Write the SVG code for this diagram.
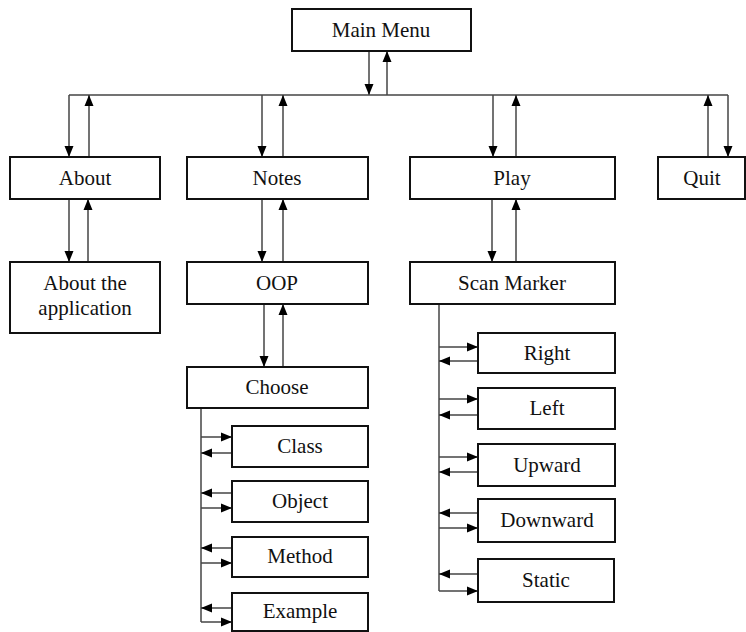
<svg xmlns="http://www.w3.org/2000/svg" width="746" height="632" viewBox="0 0 746 632" font-family="'Liberation Serif', 'DejaVu Serif', serif">
<defs>
<marker id="ah" markerUnits="userSpaceOnUse" markerWidth="11" markerHeight="10" refX="11" refY="5" orient="auto">
<path d="M0,0.5 L11,5 L0,9.5 z" fill="#000"/>
</marker>
<style>
.box{fill:#fff;stroke:#111;stroke-width:2}
.lbl{font-family:'Liberation Serif','DejaVu Serif',serif;font-size:21px;fill:#111;text-anchor:middle}
.c line{stroke:#444;stroke-width:1.5;fill:none}
.a{marker-end:url(#ah)}
</style>
</defs>
<rect width="746" height="632" fill="#fff"/>
<g class="c" id="connectors">
<line class="a" x1="369" y1="51" x2="369" y2="95"/>
<line class="a" x1="387" y1="95" x2="387" y2="51"/>
<line x1="69" y1="95" x2="728" y2="95"/>
<line class="a" x1="69" y1="95" x2="69" y2="157"/>
<line class="a" x1="89" y1="157" x2="89" y2="95"/>
<line class="a" x1="262" y1="95" x2="262" y2="157"/>
<line class="a" x1="283" y1="157" x2="283" y2="95"/>
<line class="a" x1="493" y1="95" x2="493" y2="157"/>
<line class="a" x1="516" y1="157" x2="516" y2="95"/>
<line class="a" x1="708" y1="157" x2="708" y2="95"/>
<line class="a" x1="728" y1="95" x2="728" y2="157"/>
<line class="a" x1="69" y1="199" x2="69" y2="262"/>
<line class="a" x1="88" y1="262" x2="88" y2="199"/>
<line class="a" x1="262" y1="199" x2="262" y2="262"/>
<line class="a" x1="283" y1="262" x2="283" y2="199"/>
<line class="a" x1="264" y1="304" x2="264" y2="367"/>
<line class="a" x1="283" y1="367" x2="283" y2="304"/>
<line class="a" x1="492" y1="199" x2="492" y2="262"/>
<line class="a" x1="516" y1="262" x2="516" y2="199"/>
<line x1="201" y1="408" x2="201" y2="622"/>
<line class="a" x1="201" y1="437" x2="232" y2="437"/>
<line class="a" x1="232" y1="453" x2="201" y2="453"/>
<line class="a" x1="232" y1="493" x2="201" y2="493"/>
<line class="a" x1="201" y1="508" x2="232" y2="508"/>
<line class="a" x1="232" y1="548" x2="201" y2="548"/>
<line class="a" x1="201" y1="563" x2="232" y2="563"/>
<line class="a" x1="232" y1="608" x2="201" y2="608"/>
<line class="a" x1="201" y1="622" x2="232" y2="622"/>
<line x1="439" y1="304" x2="439" y2="591"/>
<line class="a" x1="439" y1="347" x2="478" y2="347"/>
<line class="a" x1="478" y1="361" x2="439" y2="361"/>
<line class="a" x1="439" y1="399" x2="478" y2="399"/>
<line class="a" x1="478" y1="415" x2="439" y2="415"/>
<line class="a" x1="439" y1="457" x2="478" y2="457"/>
<line class="a" x1="478" y1="472" x2="439" y2="472"/>
<line class="a" x1="478" y1="513" x2="439" y2="513"/>
<line class="a" x1="439" y1="528" x2="478" y2="528"/>
<line class="a" x1="478" y1="574" x2="439" y2="574"/>
<line class="a" x1="439" y1="591" x2="478" y2="591"/>
</g>
<g id="main-menu"><rect class="box" x="292" y="9" width="179" height="42"/><text class="lbl" x="381" y="37">Main Menu</text></g>
<g id="about"><rect class="box" x="10" y="157" width="150" height="42"/><text class="lbl" x="85" y="185">About</text></g>
<g id="notes"><rect class="box" x="187" y="157" width="181" height="42"/><text class="lbl" x="277" y="185">Notes</text></g>
<g id="play"><rect class="box" x="410" y="157" width="205" height="42"/><text class="lbl" x="512" y="185">Play</text></g>
<g id="quit"><rect class="box" x="658" y="157" width="87" height="42"/><text class="lbl" x="702" y="185">Quit</text></g>
<g id="about-app"><rect class="box" x="10" y="262" width="150" height="71"/><text class="lbl" x="85" y="290">About the</text><text class="lbl" x="85" y="315">application</text></g>
<g id="oop"><rect class="box" x="187" y="262" width="181" height="42"/><text class="lbl" x="277" y="290">OOP</text></g>
<g id="scan-marker"><rect class="box" x="410" y="262" width="205" height="42"/><text class="lbl" x="512" y="290">Scan Marker</text></g>
<g id="choose"><rect class="box" x="187" y="367" width="181" height="41"/><text class="lbl" x="277" y="394">Choose</text></g>
<g id="class"><rect class="box" x="232" y="426" width="136" height="41"/><text class="lbl" x="300" y="453">Class</text></g>
<g id="object"><rect class="box" x="232" y="481" width="136" height="41"/><text class="lbl" x="300" y="508">Object</text></g>
<g id="method"><rect class="box" x="232" y="537" width="136" height="40"/><text class="lbl" x="300" y="563">Method</text></g>
<g id="example"><rect class="box" x="232" y="593" width="136" height="38"/><text class="lbl" x="300" y="618">Example</text></g>
<g id="right"><rect class="box" x="478" y="333" width="137" height="40"/><text class="lbl" x="547" y="360">Right</text></g>
<g id="left"><rect class="box" x="478" y="388" width="137" height="41"/><text class="lbl" x="547" y="415">Left</text></g>
<g id="upward"><rect class="box" x="478" y="444" width="137" height="42"/><text class="lbl" x="547" y="472">Upward</text></g>
<g id="downward"><rect class="box" x="478" y="499" width="137" height="43"/><text class="lbl" x="547" y="527">Downward</text></g>
<g id="static"><rect class="box" x="478" y="559" width="136" height="43"/><text class="lbl" x="546" y="587">Static</text></g>
</svg>
